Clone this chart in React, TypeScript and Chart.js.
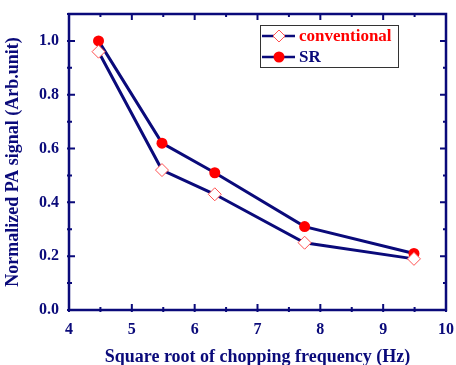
import React, { useEffect, useRef } from "react";
import { Chart, registerables } from "chart.js";

Chart.register(...registerables);

const xValues = [4.47, 5.48, 6.32, 7.75, 9.49];
const conventional = [0.96, 0.52, 0.43, 0.25, 0.19];
const srValues = [1.0, 0.62, 0.51, 0.31, 0.21];
const xTicks = [4, 5, 6, 7, 8, 9, 10];
const yTicks = [0, 0.2, 0.4, 0.6, 0.8, 1.0];
const xTitle = "Square root of chopping frequency (Hz)";
const yTitle = "Normalized PA signal (Arb.unit)";
const legendLabels = ["conventional", "SR"];

const NAVY = "#0a0a7a";
const RED = "#ff0000";
const FONT = "'Liberation Serif', 'Times New Roman', serif";

const framePlugin = {
  id: "frameTicks",
  afterDatasetsDraw(chart: any) {
    const { ctx, chartArea: a, scales } = chart;
    const xs = scales.x;
    const ys = scales.y;
    ctx.save();
    ctx.strokeStyle = NAVY;
    ctx.lineWidth = 2.5;
    ctx.strokeRect(a.left, a.top, a.right - a.left, a.bottom - a.top);
    ctx.lineWidth = 2;
    const maj = 6, min = 3;
    for (let v = 4; v <= 10.001; v += 0.5) {
      const px = xs.getPixelForValue(v);
      const len = Math.abs(v - Math.round(v)) < 0.01 ? maj : min;
      ctx.beginPath();
      ctx.moveTo(px, a.bottom + 2); ctx.lineTo(px, a.bottom - len);
      ctx.moveTo(px, a.top); ctx.lineTo(px, a.top + len);
      ctx.stroke();
    }
    for (let i = 0; i <= 11; i++) {
      const v = i / 10;
      const py = ys.getPixelForValue(v);
      const len = i % 2 === 0 ? maj : min;
      ctx.beginPath();
      ctx.moveTo(a.left - 2, py); ctx.lineTo(a.left + len, py);
      ctx.moveTo(a.right, py); ctx.lineTo(a.right - len, py);
      ctx.stroke();
    }
    // legend
    const bx = 260, by = 25, bw = 138, bh = 42;
    ctx.lineWidth = 1;
    ctx.strokeStyle = "#333";
    ctx.strokeRect(bx + 0.5, by + 0.5, bw, bh);
    const rows = [by + 11, by + 32];
    ctx.font = `bold 17px ${FONT}`;
    ctx.textBaseline = "middle";
    rows.forEach((ry, i) => {
      ctx.strokeStyle = NAVY;
      ctx.lineWidth = 2.5;
      ctx.beginPath();
      ctx.moveTo(bx + 2, ry); ctx.lineTo(bx + 35, ry);
      ctx.stroke();
      const cx = bx + 19;
      if (i === 0) {
        ctx.fillStyle = "#fff";
        ctx.strokeStyle = "#ff5050";
        ctx.lineWidth = 1;
        ctx.beginPath();
        ctx.moveTo(cx, ry - 6); ctx.lineTo(cx + 6, ry); ctx.lineTo(cx, ry + 6); ctx.lineTo(cx - 6, ry);
        ctx.closePath();
        ctx.fill(); ctx.stroke();
        ctx.fillStyle = RED;
      } else {
        ctx.fillStyle = RED;
        ctx.beginPath();
        ctx.arc(cx, ry, 5.5, 0, Math.PI * 2);
        ctx.fill();
        ctx.fillStyle = NAVY;
      }
      ctx.textAlign = "left";
      ctx.fillText(legendLabels[i], bx + 39, ry + 1);
    });
    ctx.restore();
  },
};

export default function App() {
  const ref = useRef<HTMLCanvasElement>(null);
  useEffect(() => {
    if (!ref.current) return;
    const chart = new Chart(ref.current, {
      type: "line",
      data: {
        datasets: [
          {
            label: legendLabels[0],
            data: xValues.map((x, i) => ({ x, y: conventional[i] })),
            borderColor: NAVY,
            borderWidth: 3,
            pointStyle: "rectRot",
            pointRadius: 6.5,
            pointBackgroundColor: "#fff",
            pointBorderColor: "#ff5050",
            pointBorderWidth: 1,
            tension: 0,
          },
          {
            label: legendLabels[1],
            data: xValues.map((x, i) => ({ x, y: srValues[i] })),
            borderColor: NAVY,
            borderWidth: 3,
            pointStyle: "circle",
            pointRadius: 5.5,
            pointBackgroundColor: RED,
            pointBorderColor: RED,
            pointBorderWidth: 0,
            tension: 0,
          },
        ],
      },
      options: {
        animation: false,
        responsive: false,
        maintainAspectRatio: false,
        layout: { padding: { top: 14, right: 8, left: 0, bottom: 0 } },
        plugins: { legend: { display: false }, tooltip: { enabled: false } },
        scales: {
          x: {
            type: "linear",
            min: 4,
            max: 10,
            afterBuildTicks: (s: any) => { s.ticks = xTicks.map((v) => ({ value: v })); },
            afterFit: (s: any) => { s.height = 55; },
            grid: { display: false },
            border: { display: false },
            ticks: {
              color: NAVY,
              font: { family: FONT, size: 16, weight: "bold" },
              padding: 2,
              callback: (v: any) => String(v),
            },
            title: {
              display: true,
              text: xTitle,
              color: NAVY,
              font: { family: FONT, size: 18, weight: "bold" },
              padding: { top: 8, bottom: -3 },
            },
          },
          y: {
            type: "linear",
            min: 0,
            max: 1.1,
            afterBuildTicks: (s: any) => { s.ticks = yTicks.map((v) => ({ value: v })); },
            afterFit: (s: any) => { s.width = 69; },
            grid: { display: false },
            border: { display: false },
            ticks: {
              color: NAVY,
              font: { family: FONT, size: 16, weight: "bold" },
              padding: 2,
              callback: (v: any) => Number(v).toFixed(1),
            },
            title: {
              display: true,
              text: yTitle,
              color: NAVY,
              font: { family: FONT, size: 18, weight: "bold" },
              padding: { top: 3, bottom: 4 },
            },
          },
        },
      },
      plugins: [framePlugin],
    });
    return () => chart.destroy();
  }, []);
  return (
    <div style={{ position: "fixed", left: 0, top: 0, width: 456, height: 365, background: "#fff" }}>
      <canvas ref={ref} width={456} height={365} style={{ width: 456, height: 365 }} />
    </div>
  );
}
